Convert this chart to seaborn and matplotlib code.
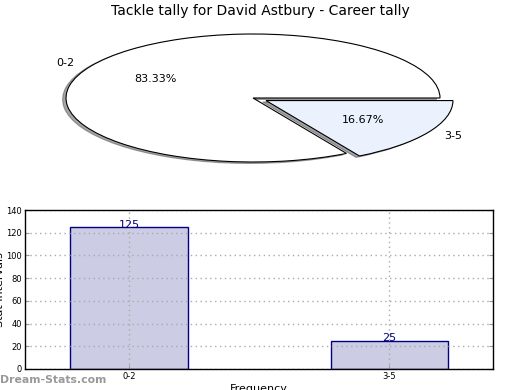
import pandas as pd
import seaborn as sns
import matplotlib.pyplot as plt

# ============================================================================
# DATA
# ============================================================================
categories = ['0-2', '3-5']
tallies = [125, 25]
pie_colors = ['#ffffff', '#ebf1fd']
bar_fill = '#ccccE4'
bar_edge = '#000080'

df = pd.DataFrame({'Interval': categories, 'Count': tallies})

# ============================================================================
# FIGURE
# ============================================================================
sns.set_style('white')
plt.rcParams['font.family'] = ['DejaVu Sans']
plt.rcParams['text.color'] = 'black'
plt.rcParams['axes.labelcolor'] = 'black'

fig = plt.figure(figsize=(5.2, 3.9), dpi=100)
fig.suptitle('Tackle tally for David Astbury - Career tally', fontsize=10, y=0.972, va='center')

# ---------------------------------------------------------------------------
# PIE (top)
# ---------------------------------------------------------------------------
ax_pie = fig.add_axes([66 / 520, 1 - 162 / 390, 374 / 520, 128 / 390])
wedges, texts, autotexts = ax_pie.pie(
    df['Count'],
    labels=df['Interval'],
    colors=pie_colors,
    explode=[0, 0.08],
    startangle=0,
    autopct='%1.2f%%',
    # offset is applied in data units (scaled by dpi/72)
    shadow={'ox': -0.013, 'oy': -0.016, 'shade': 0.7},
    wedgeprops={'edgecolor': 'black', 'linewidth': 0.8},
    textprops={'fontsize': 8, 'color': 'black'},
)
ax_pie.set_aspect('auto')
ax_pie.set_xlim(-1, 1)
ax_pie.set_ylim(-1, 1)
ax_pie.axis('off')

# ---------------------------------------------------------------------------
# BAR (bottom)
# ---------------------------------------------------------------------------
ax = fig.add_axes([25 / 520, 1 - 369 / 390, 468 / 520, 159 / 390])
sns.barplot(data=df, x='Interval', y='Count', ax=ax, width=0.45,
            color=bar_fill, edgecolor=bar_edge, linewidth=1, saturation=1)

for bar, val in zip(ax.patches, tallies):
    ax.text(bar.get_x() + bar.get_width() / 2, val + 2, str(val),
            ha='center', va='center', fontsize=8, color=bar_edge)

ax.set_xlim(-0.4, 1.4)
ax.set_ylim(0, 140)
ax.set_yticks(range(0, 141, 20))
ax.grid(True, linestyle=(0, (1, 2.5)), color='#aaaaaa', linewidth=1)
ax.set_axisbelow(False)
for p in ax.patches:
    p.set_zorder(1)

ax.tick_params(direction='in', length=3, color='#999999', labelsize=6,
               labelcolor='black', left=True, right=True, bottom=True,
               top=False, pad=2)
for s in ax.spines.values():
    s.set_color('black')
    s.set_linewidth(1)
    s.set_zorder(5)

ax.set_xlabel('Frequency', fontsize=8)
ax.set_ylabel('Stat Intervals', fontsize=8)
ax.xaxis.set_label_coords(0.5, -0.095)
ax.yaxis.set_label_coords(-0.043, 0.5)

# Watermark
fig.text(0.0, 10 / 390, 'Dream-Stats.com', fontsize=7.8, color='#999999',
         fontweight='bold', ha='left', va='center')

# ============================================================================
# SAVE
# ============================================================================
fig.savefig('out.png', dpi=100)
